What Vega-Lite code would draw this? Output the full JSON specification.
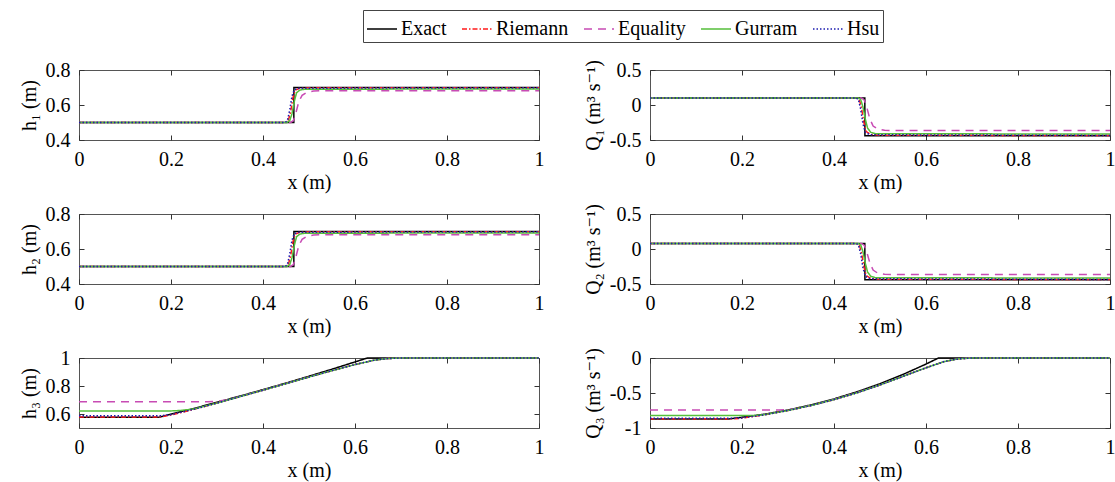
{
"$schema": "https://vega.github.io/schema/vega-lite/v6.json",
"padding": {"left": 18, "top": 9, "right": 3, "bottom": 3},
"background": "white",
"data": {"values": [
{"p":"h1","m":"Exact","x":0,"y":0.5},{"p":"h1","m":"Exact","x":0.467,"y":0.5},{"p":"h1","m":"Exact","x":0.4672,"y":0.7},{"p":"h1","m":"Exact","x":1,"y":0.7},
{"p":"h1","m":"Riemann","x":0,"y":0.5},{"p":"h1","m":"Riemann","x":0.45,"y":0.5},{"p":"h1","m":"Riemann","x":0.455,"y":0.51},{"p":"h1","m":"Riemann","x":0.46,"y":0.56},{"p":"h1","m":"Riemann","x":0.465,"y":0.64},{"p":"h1","m":"Riemann","x":0.47,"y":0.685},{"p":"h1","m":"Riemann","x":0.48,"y":0.695},{"p":"h1","m":"Riemann","x":0.5,"y":0.698},{"p":"h1","m":"Riemann","x":1,"y":0.698},
{"p":"h1","m":"Equality","x":0,"y":0.5},{"p":"h1","m":"Equality","x":0.46,"y":0.5},{"p":"h1","m":"Equality","x":0.466,"y":0.51},{"p":"h1","m":"Equality","x":0.472,"y":0.56},{"p":"h1","m":"Equality","x":0.478,"y":0.62},{"p":"h1","m":"Equality","x":0.485,"y":0.655},{"p":"h1","m":"Equality","x":0.495,"y":0.672},{"p":"h1","m":"Equality","x":0.51,"y":0.68},{"p":"h1","m":"Equality","x":0.53,"y":0.682},{"p":"h1","m":"Equality","x":1,"y":0.682},
{"p":"h1","m":"Gurram","x":0,"y":0.5},{"p":"h1","m":"Gurram","x":0.452,"y":0.5},{"p":"h1","m":"Gurram","x":0.458,"y":0.51},{"p":"h1","m":"Gurram","x":0.463,"y":0.55},{"p":"h1","m":"Gurram","x":0.468,"y":0.62},{"p":"h1","m":"Gurram","x":0.473,"y":0.67},{"p":"h1","m":"Gurram","x":0.48,"y":0.685},{"p":"h1","m":"Gurram","x":0.49,"y":0.69},{"p":"h1","m":"Gurram","x":1,"y":0.692},
{"p":"h1","m":"Hsu","x":0,"y":0.5},{"p":"h1","m":"Hsu","x":0.448,"y":0.5},{"p":"h1","m":"Hsu","x":0.453,"y":0.51},{"p":"h1","m":"Hsu","x":0.458,"y":0.57},{"p":"h1","m":"Hsu","x":0.463,"y":0.65},{"p":"h1","m":"Hsu","x":0.468,"y":0.688},{"p":"h1","m":"Hsu","x":0.478,"y":0.696},{"p":"h1","m":"Hsu","x":1,"y":0.698},

{"p":"q1","m":"Exact","x":0,"y":0.1},{"p":"q1","m":"Exact","x":0.467,"y":0.1},{"p":"q1","m":"Exact","x":0.4672,"y":-0.44},{"p":"q1","m":"Exact","x":1,"y":-0.44},
{"p":"q1","m":"Riemann","x":0,"y":0.1},{"p":"q1","m":"Riemann","x":0.45,"y":0.1},{"p":"q1","m":"Riemann","x":0.455,"y":0.08},{"p":"q1","m":"Riemann","x":0.46,"y":-0.05},{"p":"q1","m":"Riemann","x":0.465,"y":-0.25},{"p":"q1","m":"Riemann","x":0.47,"y":-0.38},{"p":"q1","m":"Riemann","x":0.48,"y":-0.42},{"p":"q1","m":"Riemann","x":0.5,"y":-0.433},{"p":"q1","m":"Riemann","x":1,"y":-0.435},
{"p":"q1","m":"Equality","x":0,"y":0.1},{"p":"q1","m":"Equality","x":0.46,"y":0.1},{"p":"q1","m":"Equality","x":0.466,"y":0.07},{"p":"q1","m":"Equality","x":0.472,"y":-0.05},{"p":"q1","m":"Equality","x":0.478,"y":-0.2},{"p":"q1","m":"Equality","x":0.485,"y":-0.3},{"p":"q1","m":"Equality","x":0.495,"y":-0.345},{"p":"q1","m":"Equality","x":0.51,"y":-0.362},{"p":"q1","m":"Equality","x":0.53,"y":-0.365},{"p":"q1","m":"Equality","x":1,"y":-0.365},
{"p":"q1","m":"Gurram","x":0,"y":0.1},{"p":"q1","m":"Gurram","x":0.452,"y":0.1},{"p":"q1","m":"Gurram","x":0.458,"y":0.08},{"p":"q1","m":"Gurram","x":0.463,"y":-0.03},{"p":"q1","m":"Gurram","x":0.468,"y":-0.2},{"p":"q1","m":"Gurram","x":0.473,"y":-0.33},{"p":"q1","m":"Gurram","x":0.48,"y":-0.39},{"p":"q1","m":"Gurram","x":0.49,"y":-0.41},{"p":"q1","m":"Gurram","x":1,"y":-0.415},
{"p":"q1","m":"Hsu","x":0,"y":0.1},{"p":"q1","m":"Hsu","x":0.448,"y":0.1},{"p":"q1","m":"Hsu","x":0.453,"y":0.08},{"p":"q1","m":"Hsu","x":0.458,"y":-0.06},{"p":"q1","m":"Hsu","x":0.463,"y":-0.27},{"p":"q1","m":"Hsu","x":0.468,"y":-0.39},{"p":"q1","m":"Hsu","x":0.478,"y":-0.425},{"p":"q1","m":"Hsu","x":1,"y":-0.435},

{"p":"h2","m":"Exact","x":0,"y":0.5},{"p":"h2","m":"Exact","x":0.467,"y":0.5},{"p":"h2","m":"Exact","x":0.4672,"y":0.7},{"p":"h2","m":"Exact","x":1,"y":0.7},
{"p":"h2","m":"Riemann","x":0,"y":0.5},{"p":"h2","m":"Riemann","x":0.45,"y":0.5},{"p":"h2","m":"Riemann","x":0.455,"y":0.51},{"p":"h2","m":"Riemann","x":0.46,"y":0.56},{"p":"h2","m":"Riemann","x":0.465,"y":0.64},{"p":"h2","m":"Riemann","x":0.47,"y":0.685},{"p":"h2","m":"Riemann","x":0.48,"y":0.695},{"p":"h2","m":"Riemann","x":0.5,"y":0.698},{"p":"h2","m":"Riemann","x":1,"y":0.698},
{"p":"h2","m":"Equality","x":0,"y":0.5},{"p":"h2","m":"Equality","x":0.46,"y":0.5},{"p":"h2","m":"Equality","x":0.466,"y":0.51},{"p":"h2","m":"Equality","x":0.472,"y":0.56},{"p":"h2","m":"Equality","x":0.478,"y":0.62},{"p":"h2","m":"Equality","x":0.485,"y":0.655},{"p":"h2","m":"Equality","x":0.495,"y":0.672},{"p":"h2","m":"Equality","x":0.51,"y":0.68},{"p":"h2","m":"Equality","x":0.53,"y":0.682},{"p":"h2","m":"Equality","x":1,"y":0.682},
{"p":"h2","m":"Gurram","x":0,"y":0.5},{"p":"h2","m":"Gurram","x":0.452,"y":0.5},{"p":"h2","m":"Gurram","x":0.458,"y":0.51},{"p":"h2","m":"Gurram","x":0.463,"y":0.55},{"p":"h2","m":"Gurram","x":0.468,"y":0.62},{"p":"h2","m":"Gurram","x":0.473,"y":0.67},{"p":"h2","m":"Gurram","x":0.48,"y":0.685},{"p":"h2","m":"Gurram","x":0.49,"y":0.69},{"p":"h2","m":"Gurram","x":1,"y":0.692},
{"p":"h2","m":"Hsu","x":0,"y":0.5},{"p":"h2","m":"Hsu","x":0.448,"y":0.5},{"p":"h2","m":"Hsu","x":0.453,"y":0.51},{"p":"h2","m":"Hsu","x":0.458,"y":0.57},{"p":"h2","m":"Hsu","x":0.463,"y":0.65},{"p":"h2","m":"Hsu","x":0.468,"y":0.688},{"p":"h2","m":"Hsu","x":0.478,"y":0.696},{"p":"h2","m":"Hsu","x":1,"y":0.698},

{"p":"q2","m":"Exact","x":0,"y":0.08},{"p":"q2","m":"Exact","x":0.467,"y":0.08},{"p":"q2","m":"Exact","x":0.4672,"y":-0.44},{"p":"q2","m":"Exact","x":1,"y":-0.44},
{"p":"q2","m":"Riemann","x":0,"y":0.08},{"p":"q2","m":"Riemann","x":0.45,"y":0.08},{"p":"q2","m":"Riemann","x":0.455,"y":0.06},{"p":"q2","m":"Riemann","x":0.46,"y":-0.06},{"p":"q2","m":"Riemann","x":0.465,"y":-0.25},{"p":"q2","m":"Riemann","x":0.47,"y":-0.38},{"p":"q2","m":"Riemann","x":0.48,"y":-0.42},{"p":"q2","m":"Riemann","x":0.5,"y":-0.433},{"p":"q2","m":"Riemann","x":1,"y":-0.435},
{"p":"q2","m":"Equality","x":0,"y":0.08},{"p":"q2","m":"Equality","x":0.46,"y":0.08},{"p":"q2","m":"Equality","x":0.466,"y":0.05},{"p":"q2","m":"Equality","x":0.472,"y":-0.06},{"p":"q2","m":"Equality","x":0.478,"y":-0.2},{"p":"q2","m":"Equality","x":0.485,"y":-0.3},{"p":"q2","m":"Equality","x":0.495,"y":-0.345},{"p":"q2","m":"Equality","x":0.51,"y":-0.362},{"p":"q2","m":"Equality","x":0.53,"y":-0.365},{"p":"q2","m":"Equality","x":1,"y":-0.365},
{"p":"q2","m":"Gurram","x":0,"y":0.08},{"p":"q2","m":"Gurram","x":0.452,"y":0.08},{"p":"q2","m":"Gurram","x":0.458,"y":0.06},{"p":"q2","m":"Gurram","x":0.463,"y":-0.04},{"p":"q2","m":"Gurram","x":0.468,"y":-0.2},{"p":"q2","m":"Gurram","x":0.473,"y":-0.33},{"p":"q2","m":"Gurram","x":0.48,"y":-0.39},{"p":"q2","m":"Gurram","x":0.49,"y":-0.41},{"p":"q2","m":"Gurram","x":1,"y":-0.415},
{"p":"q2","m":"Hsu","x":0,"y":0.08},{"p":"q2","m":"Hsu","x":0.448,"y":0.08},{"p":"q2","m":"Hsu","x":0.453,"y":0.06},{"p":"q2","m":"Hsu","x":0.458,"y":-0.07},{"p":"q2","m":"Hsu","x":0.463,"y":-0.27},{"p":"q2","m":"Hsu","x":0.468,"y":-0.39},{"p":"q2","m":"Hsu","x":0.478,"y":-0.425},{"p":"q2","m":"Hsu","x":1,"y":-0.435},

{"p":"h3","m":"Exact","x":0,"y":0.576},{"p":"h3","m":"Exact","x":0.172,"y":0.576},{"p":"h3","m":"Exact","x":0.25,"y":0.64},{"p":"h3","m":"Exact","x":0.3,"y":0.684},{"p":"h3","m":"Exact","x":0.35,"y":0.728},{"p":"h3","m":"Exact","x":0.4,"y":0.774},{"p":"h3","m":"Exact","x":0.45,"y":0.821},{"p":"h3","m":"Exact","x":0.5,"y":0.87},{"p":"h3","m":"Exact","x":0.55,"y":0.92},{"p":"h3","m":"Exact","x":0.6,"y":0.972},{"p":"h3","m":"Exact","x":0.627,"y":1},{"p":"h3","m":"Exact","x":1,"y":1},
{"p":"h3","m":"Riemann","x":0,"y":0.579},{"p":"h3","m":"Riemann","x":0.175,"y":0.579},{"p":"h3","m":"Riemann","x":0.2,"y":0.592},{"p":"h3","m":"Riemann","x":0.25,"y":0.633},{"p":"h3","m":"Riemann","x":0.3,"y":0.678},{"p":"h3","m":"Riemann","x":0.35,"y":0.724},{"p":"h3","m":"Riemann","x":0.4,"y":0.77},{"p":"h3","m":"Riemann","x":0.45,"y":0.817},{"p":"h3","m":"Riemann","x":0.5,"y":0.864},{"p":"h3","m":"Riemann","x":0.55,"y":0.91},{"p":"h3","m":"Riemann","x":0.6,"y":0.953},{"p":"h3","m":"Riemann","x":0.64,"y":0.983},{"p":"h3","m":"Riemann","x":0.67,"y":0.996},{"p":"h3","m":"Riemann","x":0.7,"y":1},{"p":"h3","m":"Riemann","x":1,"y":1},
{"p":"h3","m":"Equality","x":0,"y":0.688},{"p":"h3","m":"Equality","x":0.28,"y":0.688},{"p":"h3","m":"Equality","x":0.3,"y":0.69},{"p":"h3","m":"Equality","x":0.32,"y":0.7},{"p":"h3","m":"Equality","x":0.35,"y":0.724},{"p":"h3","m":"Equality","x":0.4,"y":0.77},{"p":"h3","m":"Equality","x":0.45,"y":0.817},{"p":"h3","m":"Equality","x":0.5,"y":0.864},{"p":"h3","m":"Equality","x":0.55,"y":0.91},{"p":"h3","m":"Equality","x":0.6,"y":0.953},{"p":"h3","m":"Equality","x":0.64,"y":0.983},{"p":"h3","m":"Equality","x":0.67,"y":0.996},{"p":"h3","m":"Equality","x":0.7,"y":1},{"p":"h3","m":"Equality","x":1,"y":1},
{"p":"h3","m":"Gurram","x":0,"y":0.622},{"p":"h3","m":"Gurram","x":0.2,"y":0.622},{"p":"h3","m":"Gurram","x":0.22,"y":0.625},{"p":"h3","m":"Gurram","x":0.25,"y":0.636},{"p":"h3","m":"Gurram","x":0.3,"y":0.678},{"p":"h3","m":"Gurram","x":0.35,"y":0.724},{"p":"h3","m":"Gurram","x":0.4,"y":0.77},{"p":"h3","m":"Gurram","x":0.45,"y":0.817},{"p":"h3","m":"Gurram","x":0.5,"y":0.864},{"p":"h3","m":"Gurram","x":0.55,"y":0.91},{"p":"h3","m":"Gurram","x":0.6,"y":0.953},{"p":"h3","m":"Gurram","x":0.64,"y":0.983},{"p":"h3","m":"Gurram","x":0.67,"y":0.996},{"p":"h3","m":"Gurram","x":0.7,"y":1},{"p":"h3","m":"Gurram","x":1,"y":1},
{"p":"h3","m":"Hsu","x":0,"y":0.588},{"p":"h3","m":"Hsu","x":0.18,"y":0.588},{"p":"h3","m":"Hsu","x":0.2,"y":0.596},{"p":"h3","m":"Hsu","x":0.25,"y":0.634},{"p":"h3","m":"Hsu","x":0.3,"y":0.678},{"p":"h3","m":"Hsu","x":0.35,"y":0.724},{"p":"h3","m":"Hsu","x":0.4,"y":0.77},{"p":"h3","m":"Hsu","x":0.45,"y":0.817},{"p":"h3","m":"Hsu","x":0.5,"y":0.864},{"p":"h3","m":"Hsu","x":0.55,"y":0.91},{"p":"h3","m":"Hsu","x":0.6,"y":0.953},{"p":"h3","m":"Hsu","x":0.64,"y":0.983},{"p":"h3","m":"Hsu","x":0.67,"y":0.996},{"p":"h3","m":"Hsu","x":0.7,"y":1},{"p":"h3","m":"Hsu","x":1,"y":1},

{"p":"q3","m":"Exact","x":0,"y":-0.871},{"p":"q3","m":"Exact","x":0.172,"y":-0.871},{"p":"q3","m":"Exact","x":0.25,"y":-0.802},{"p":"q3","m":"Exact","x":0.3,"y":-0.743},{"p":"q3","m":"Exact","x":0.35,"y":-0.67},{"p":"q3","m":"Exact","x":0.4,"y":-0.584},{"p":"q3","m":"Exact","x":0.45,"y":-0.483},{"p":"q3","m":"Exact","x":0.5,"y":-0.367},{"p":"q3","m":"Exact","x":0.55,"y":-0.235},{"p":"q3","m":"Exact","x":0.6,"y":-0.087},{"p":"q3","m":"Exact","x":0.627,"y":0},{"p":"q3","m":"Exact","x":1,"y":0},
{"p":"q3","m":"Riemann","x":0,"y":-0.868},{"p":"q3","m":"Riemann","x":0.18,"y":-0.868},{"p":"q3","m":"Riemann","x":0.2,"y":-0.86},{"p":"q3","m":"Riemann","x":0.25,"y":-0.81},{"p":"q3","m":"Riemann","x":0.3,"y":-0.75},{"p":"q3","m":"Riemann","x":0.35,"y":-0.678},{"p":"q3","m":"Riemann","x":0.4,"y":-0.594},{"p":"q3","m":"Riemann","x":0.45,"y":-0.497},{"p":"q3","m":"Riemann","x":0.5,"y":-0.385},{"p":"q3","m":"Riemann","x":0.55,"y":-0.262},{"p":"q3","m":"Riemann","x":0.6,"y":-0.14},{"p":"q3","m":"Riemann","x":0.64,"y":-0.05},{"p":"q3","m":"Riemann","x":0.67,"y":-0.012},{"p":"q3","m":"Riemann","x":0.7,"y":0},{"p":"q3","m":"Riemann","x":1,"y":0},
{"p":"q3","m":"Equality","x":0,"y":-0.742},{"p":"q3","m":"Equality","x":0.28,"y":-0.742},{"p":"q3","m":"Equality","x":0.3,"y":-0.74},{"p":"q3","m":"Equality","x":0.32,"y":-0.72},{"p":"q3","m":"Equality","x":0.35,"y":-0.68},{"p":"q3","m":"Equality","x":0.4,"y":-0.594},{"p":"q3","m":"Equality","x":0.45,"y":-0.497},{"p":"q3","m":"Equality","x":0.5,"y":-0.385},{"p":"q3","m":"Equality","x":0.55,"y":-0.262},{"p":"q3","m":"Equality","x":0.6,"y":-0.14},{"p":"q3","m":"Equality","x":0.64,"y":-0.05},{"p":"q3","m":"Equality","x":0.67,"y":-0.012},{"p":"q3","m":"Equality","x":0.7,"y":0},{"p":"q3","m":"Equality","x":1,"y":0},
{"p":"q3","m":"Gurram","x":0,"y":-0.823},{"p":"q3","m":"Gurram","x":0.2,"y":-0.823},{"p":"q3","m":"Gurram","x":0.23,"y":-0.82},{"p":"q3","m":"Gurram","x":0.25,"y":-0.808},{"p":"q3","m":"Gurram","x":0.3,"y":-0.75},{"p":"q3","m":"Gurram","x":0.35,"y":-0.678},{"p":"q3","m":"Gurram","x":0.4,"y":-0.594},{"p":"q3","m":"Gurram","x":0.45,"y":-0.497},{"p":"q3","m":"Gurram","x":0.5,"y":-0.385},{"p":"q3","m":"Gurram","x":0.55,"y":-0.262},{"p":"q3","m":"Gurram","x":0.6,"y":-0.14},{"p":"q3","m":"Gurram","x":0.64,"y":-0.05},{"p":"q3","m":"Gurram","x":0.67,"y":-0.012},{"p":"q3","m":"Gurram","x":0.7,"y":0},{"p":"q3","m":"Gurram","x":1,"y":0},
{"p":"q3","m":"Hsu","x":0,"y":-0.86},{"p":"q3","m":"Hsu","x":0.18,"y":-0.86},{"p":"q3","m":"Hsu","x":0.2,"y":-0.856},{"p":"q3","m":"Hsu","x":0.25,"y":-0.81},{"p":"q3","m":"Hsu","x":0.3,"y":-0.75},{"p":"q3","m":"Hsu","x":0.35,"y":-0.678},{"p":"q3","m":"Hsu","x":0.4,"y":-0.594},{"p":"q3","m":"Hsu","x":0.45,"y":-0.497},{"p":"q3","m":"Hsu","x":0.5,"y":-0.385},{"p":"q3","m":"Hsu","x":0.55,"y":-0.262},{"p":"q3","m":"Hsu","x":0.6,"y":-0.14},{"p":"q3","m":"Hsu","x":0.64,"y":-0.05},{"p":"q3","m":"Hsu","x":0.67,"y":-0.012},{"p":"q3","m":"Hsu","x":0.7,"y":0},{"p":"q3","m":"Hsu","x":1,"y":0}
]},
"columns": 2,
"spacing": {"row": 10, "column": 37},
"resolve": {"scale": {"color": "shared", "strokeDash": "shared"}, "legend": {"color": "shared", "strokeDash": "shared"}},
"concat": [
{"width": 460, "height": 70, "transform": [{"filter": "datum.p == 'h1'"}],
 "encoding": {
  "color": {"field": "m", "type": "nominal", "scale": {"domain": ["Exact","Riemann","Equality","Gurram","Hsu"], "range": ["#000000","#FF1A1A","#C84BB4","#55BF3B","#1C1CB0"]}, "legend": {"orient": "none", "direction": "horizontal", "legendX": 284, "legendY": -60, "title": null}},
  "strokeDash": {"field": "m", "type": "nominal", "scale": {"domain": ["Exact","Riemann","Equality","Gurram","Hsu"], "range": [[1,0],[5,2,1.5,2],[8,6],[1,0],[1.5,2]]}, "legend": {"orient": "none", "direction": "horizontal", "legendX": 284, "legendY": -60, "title": null}}
 },
 "layer": [
  {"mark": {"type": "line", "strokeWidth": 1.5}, "encoding": {
    "x": {"field": "x", "type": "quantitative", "scale": {"domain": [0,1]}, "axis": {"title": "x (m)", "values": [0,0.2,0.4,0.6,0.8,1]}},
    "y": {"field": "y", "type": "quantitative", "scale": {"domain": [0.4,0.8]}, "axis": {"title": "h₁ (m)", "values": [0.4,0.6,0.8]}}}},
  {"mark": {"type": "line", "opacity": 0}, "encoding": {
    "x": {"field": "x", "type": "quantitative", "axis": {"orient": "top", "labels": false, "title": null, "values": [0,0.2,0.4,0.6,0.8,1]}},
    "y": {"field": "y", "type": "quantitative", "axis": {"orient": "right", "labels": false, "title": null, "values": [0.4,0.6,0.8]}}}}
 ],
 "resolve": {"axis": {"x": "independent", "y": "independent"}}
},
{"width": 460, "height": 70, "transform": [{"filter": "datum.p == 'q1'"}],
 "encoding": {
  "color": {"field": "m", "type": "nominal", "scale": {"domain": ["Exact","Riemann","Equality","Gurram","Hsu"], "range": ["#000000","#FF1A1A","#C84BB4","#55BF3B","#1C1CB0"]}, "legend": {"orient": "none", "direction": "horizontal", "legendX": 284, "legendY": -60, "title": null}},
  "strokeDash": {"field": "m", "type": "nominal", "scale": {"domain": ["Exact","Riemann","Equality","Gurram","Hsu"], "range": [[1,0],[5,2,1.5,2],[8,6],[1,0],[1.5,2]]}, "legend": {"orient": "none", "direction": "horizontal", "legendX": 284, "legendY": -60, "title": null}}
 },
 "layer": [
  {"mark": {"type": "line", "strokeWidth": 1.5}, "encoding": {
    "x": {"field": "x", "type": "quantitative", "scale": {"domain": [0,1]}, "axis": {"title": "x (m)", "values": [0,0.2,0.4,0.6,0.8,1]}},
    "y": {"field": "y", "type": "quantitative", "scale": {"domain": [-0.5,0.5]}, "axis": {"title": "Q₁ (m³ s⁻¹)", "values": [-0.5,0,0.5]}}}},
  {"mark": {"type": "line", "opacity": 0}, "encoding": {
    "x": {"field": "x", "type": "quantitative", "axis": {"orient": "top", "labels": false, "title": null, "values": [0,0.2,0.4,0.6,0.8,1]}},
    "y": {"field": "y", "type": "quantitative", "axis": {"orient": "right", "labels": false, "title": null, "values": [-0.5,0,0.5]}}}}
 ],
 "resolve": {"axis": {"x": "independent", "y": "independent"}}
},
{"width": 460, "height": 70, "transform": [{"filter": "datum.p == 'h2'"}],
 "encoding": {
  "color": {"field": "m", "type": "nominal", "scale": {"domain": ["Exact","Riemann","Equality","Gurram","Hsu"], "range": ["#000000","#FF1A1A","#C84BB4","#55BF3B","#1C1CB0"]}, "legend": {"orient": "none", "direction": "horizontal", "legendX": 284, "legendY": -60, "title": null}},
  "strokeDash": {"field": "m", "type": "nominal", "scale": {"domain": ["Exact","Riemann","Equality","Gurram","Hsu"], "range": [[1,0],[5,2,1.5,2],[8,6],[1,0],[1.5,2]]}, "legend": {"orient": "none", "direction": "horizontal", "legendX": 284, "legendY": -60, "title": null}}
 },
 "layer": [
  {"mark": {"type": "line", "strokeWidth": 1.5}, "encoding": {
    "x": {"field": "x", "type": "quantitative", "scale": {"domain": [0,1]}, "axis": {"title": "x (m)", "values": [0,0.2,0.4,0.6,0.8,1]}},
    "y": {"field": "y", "type": "quantitative", "scale": {"domain": [0.4,0.8]}, "axis": {"title": "h₂ (m)", "values": [0.4,0.6,0.8]}}}},
  {"mark": {"type": "line", "opacity": 0}, "encoding": {
    "x": {"field": "x", "type": "quantitative", "axis": {"orient": "top", "labels": false, "title": null, "values": [0,0.2,0.4,0.6,0.8,1]}},
    "y": {"field": "y", "type": "quantitative", "axis": {"orient": "right", "labels": false, "title": null, "values": [0.4,0.6,0.8]}}}}
 ],
 "resolve": {"axis": {"x": "independent", "y": "independent"}}
},
{"width": 460, "height": 70, "transform": [{"filter": "datum.p == 'q2'"}],
 "encoding": {
  "color": {"field": "m", "type": "nominal", "scale": {"domain": ["Exact","Riemann","Equality","Gurram","Hsu"], "range": ["#000000","#FF1A1A","#C84BB4","#55BF3B","#1C1CB0"]}, "legend": {"orient": "none", "direction": "horizontal", "legendX": 284, "legendY": -60, "title": null}},
  "strokeDash": {"field": "m", "type": "nominal", "scale": {"domain": ["Exact","Riemann","Equality","Gurram","Hsu"], "range": [[1,0],[5,2,1.5,2],[8,6],[1,0],[1.5,2]]}, "legend": {"orient": "none", "direction": "horizontal", "legendX": 284, "legendY": -60, "title": null}}
 },
 "layer": [
  {"mark": {"type": "line", "strokeWidth": 1.5}, "encoding": {
    "x": {"field": "x", "type": "quantitative", "scale": {"domain": [0,1]}, "axis": {"title": "x (m)", "values": [0,0.2,0.4,0.6,0.8,1]}},
    "y": {"field": "y", "type": "quantitative", "scale": {"domain": [-0.5,0.5]}, "axis": {"title": "Q₂ (m³ s⁻¹)", "values": [-0.5,0,0.5]}}}},
  {"mark": {"type": "line", "opacity": 0}, "encoding": {
    "x": {"field": "x", "type": "quantitative", "axis": {"orient": "top", "labels": false, "title": null, "values": [0,0.2,0.4,0.6,0.8,1]}},
    "y": {"field": "y", "type": "quantitative", "axis": {"orient": "right", "labels": false, "title": null, "values": [-0.5,0,0.5]}}}}
 ],
 "resolve": {"axis": {"x": "independent", "y": "independent"}}
},
{"width": 460, "height": 70, "transform": [{"filter": "datum.p == 'h3'"}],
 "encoding": {
  "color": {"field": "m", "type": "nominal", "scale": {"domain": ["Exact","Riemann","Equality","Gurram","Hsu"], "range": ["#000000","#FF1A1A","#C84BB4","#55BF3B","#1C1CB0"]}, "legend": {"orient": "none", "direction": "horizontal", "legendX": 284, "legendY": -60, "title": null}},
  "strokeDash": {"field": "m", "type": "nominal", "scale": {"domain": ["Exact","Riemann","Equality","Gurram","Hsu"], "range": [[1,0],[5,2,1.5,2],[8,6],[1,0],[1.5,2]]}, "legend": {"orient": "none", "direction": "horizontal", "legendX": 284, "legendY": -60, "title": null}}
 },
 "layer": [
  {"mark": {"type": "line", "strokeWidth": 1.5}, "encoding": {
    "x": {"field": "x", "type": "quantitative", "scale": {"domain": [0,1]}, "axis": {"title": "x (m)", "values": [0,0.2,0.4,0.6,0.8,1]}},
    "y": {"field": "y", "type": "quantitative", "scale": {"domain": [0.5,1]}, "axis": {"title": "h₃ (m)", "values": [0.6,0.8,1]}}}},
  {"mark": {"type": "line", "opacity": 0}, "encoding": {
    "x": {"field": "x", "type": "quantitative", "axis": {"orient": "top", "labels": false, "title": null, "values": [0,0.2,0.4,0.6,0.8,1]}},
    "y": {"field": "y", "type": "quantitative", "axis": {"orient": "right", "labels": false, "title": null, "values": [0.6,0.8,1]}}}}
 ],
 "resolve": {"axis": {"x": "independent", "y": "independent"}}
},
{"width": 460, "height": 70, "transform": [{"filter": "datum.p == 'q3'"}],
 "encoding": {
  "color": {"field": "m", "type": "nominal", "scale": {"domain": ["Exact","Riemann","Equality","Gurram","Hsu"], "range": ["#000000","#FF1A1A","#C84BB4","#55BF3B","#1C1CB0"]}, "legend": {"orient": "none", "direction": "horizontal", "legendX": 284, "legendY": -60, "title": null}},
  "strokeDash": {"field": "m", "type": "nominal", "scale": {"domain": ["Exact","Riemann","Equality","Gurram","Hsu"], "range": [[1,0],[5,2,1.5,2],[8,6],[1,0],[1.5,2]]}, "legend": {"orient": "none", "direction": "horizontal", "legendX": 284, "legendY": -60, "title": null}}
 },
 "layer": [
  {"mark": {"type": "line", "strokeWidth": 1.5}, "encoding": {
    "x": {"field": "x", "type": "quantitative", "scale": {"domain": [0,1]}, "axis": {"title": "x (m)", "values": [0,0.2,0.4,0.6,0.8,1]}},
    "y": {"field": "y", "type": "quantitative", "scale": {"domain": [-1,0]}, "axis": {"title": "Q₃ (m³ s⁻¹)", "values": [-1,-0.5,0]}}}},
  {"mark": {"type": "line", "opacity": 0}, "encoding": {
    "x": {"field": "x", "type": "quantitative", "axis": {"orient": "top", "labels": false, "title": null, "values": [0,0.2,0.4,0.6,0.8,1]}},
    "y": {"field": "y", "type": "quantitative", "axis": {"orient": "right", "labels": false, "title": null, "values": [-1,-0.5,0]}}}}
 ],
 "resolve": {"axis": {"x": "independent", "y": "independent"}}
}
],
"config": {
  "view": {"stroke": "#555", "strokeWidth": 1},
  "font": "Liberation Serif, Times New Roman, DejaVu Serif, serif",
  "axis": {"labelFont": "Liberation Serif, Times New Roman, DejaVu Serif, serif", "labelFontSize": 20, "titleFont": "Liberation Serif, Times New Roman, DejaVu Serif, serif", "titleFontSize": 20, "titleFontWeight": "normal", "labelColor": "#000", "titleColor": "#000", "domain": false, "grid": false, "tickColor": "#333", "tickWidth": 1, "tickSize": -5, "labelPadding": 14, "titlePadding": 3, "labelExpr": "replace(format(datum.value, '~g'), '\u2212', '-')", "labelFlush": false, "labelOverlap": false},
  "axisY": {"titlePadding": 6},
  "legend": {"symbolType": "stroke", "symbolSize": 900, "symbolStrokeWidth": 1.5, "labelFont": "Liberation Serif, Times New Roman, DejaVu Serif, serif", "labelFontSize": 20, "labelColor": "#000", "strokeColor": "#444", "fillColor": "white", "padding": 3, "columnPadding": 12, "labelOffset": 3}
}
}
